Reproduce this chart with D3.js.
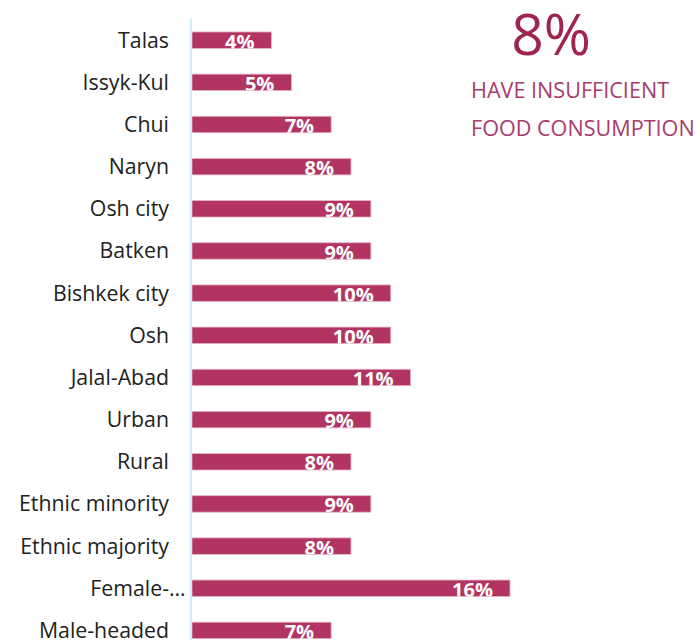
<!DOCTYPE html>
<html>
<head>
<meta charset="utf-8">
<script src="https://cdn.jsdelivr.net/npm/d3@7"></script>
<style>
  body { margin: 0; background: #fff; }
  svg { display: block; font-family: "Open Sans", "Noto Sans", sans-serif; }
</style>
</head>
<body>
<div id="chart"></div>
<script>
// categories and values (percent with insufficient food consumption)
const categories = ["Talas", "Issyk-Kul", "Chui", "Naryn", "Osh city", "Batken", "Bishkek city", "Osh",
  "Jalal-Abad", "Urban", "Rural", "Ethnic minority", "Ethnic majority", "Female-…", "Male-headed"];
const values = [4, 5, 7, 8, 9, 9, 10, 10, 11, 9, 8, 9, 8, 16, 7];
const headline = "8%";
const subtitleLines = ["HAVE INSUFFICIENT", "FOOD CONSUMPTION"];

const width = 695, height = 640;
const rowStep = 42.16;
const barColour = "#b23462";

const svg = d3.select("#chart")
  .append("svg")
    .attr("width", width)
    .attr("height", height);

const x = d3.scaleLinear()
  .domain([0, 16])
  .range([192, 510]);

const y = d3.scaleBand()
  .domain(categories)
  .range([19.1, 19.1 + categories.length * rowStep])
  .paddingInner(0.61)
  .paddingOuter(0.305);

const data = categories.map((c, i) => ({ cat: c, val: values[i], id: i }));

// clip paths so labels get cut at the bar edge
const defs = svg.append("defs");
defs.selectAll("clipPath")
  .data(data)
  .enter().append("clipPath")
    .attr("id", d => "clip" + d.id)
  .append("rect")
    .attr("x", x(0))
    .attr("y", d => y(d.cat))
    .attr("width", d => x(d.val) - x(0))
    .attr("height", y.bandwidth());

// bars
svg.selectAll(".bar")
  .data(data)
  .enter().append("rect")
    .attr("class", "bar")
    .attr("x", x(0))
    .attr("y", d => y(d.cat))
    .attr("width", d => x(d.val) - x(0))
    .attr("height", y.bandwidth())
    .attr("fill", barColour)
    .attr("stroke", "#e6b3c6")
    .attr("stroke-width", 0.8);

// value labels inside bars
svg.selectAll(".val")
  .data(data)
  .enter().append("text")
    .attr("class", "val")
    .attr("clip-path", d => "url(#clip" + d.id + ")")
    .attr("x", d => x(d.val) - 17)
    .attr("y", d => y(d.cat) + y.bandwidth() + 0.3)
    .attr("text-anchor", "end")
    .attr("fill", "#fff")
    .attr("font-size", 20)
    .attr("font-weight", 700)
    .text(d => d.val + "%");

// category axis
svg.append("line")
  .attr("x1", 191).attr("x2", 191)
  .attr("y1", 19).attr("y2", height)
  .attr("stroke", "#cdeefd")
  .attr("stroke-width", 2);

// truncated labels keep the text right-aligned and let the ellipsis overflow
const catLabels = svg.selectAll(".cat")
  .data(data)
  .enter().append("g")
    .attr("class", "cat")
    .attr("transform", d => `translate(169,${y(d.cat) + y.bandwidth() / 2})`);

catLabels.append("text")
  .attr("dy", "0.35em")
  .attr("text-anchor", "end")
  .attr("fill", "#222")
  .attr("font-size", 21.3)
  .text(d => d.cat.replace("…", ""));

catLabels.filter(d => d.cat.endsWith("…"))
  .append("text")
    .attr("dy", "0.35em")
    .attr("text-anchor", "start")
    .attr("fill", "#222")
    .attr("font-size", 21.3)
    .text("…");

// headline figure
svg.append("text")
  .attr("x", 551)
  .attr("y", 55)
  .attr("text-anchor", "middle")
  .attr("fill", "#9e2552")
  .attr("font-size", 57)
  .text(headline);

svg.selectAll(".sub")
  .data(subtitleLines)
  .enter().append("text")
    .attr("class", "sub")
    .attr("x", 471)
    .attr("y", (d, i) => 97.5 + i * 38.5)
    .attr("fill", "#a83c6c")
    .attr("font-size", 21.6)
    .text(d => d);
</script>
</body>
</html>
